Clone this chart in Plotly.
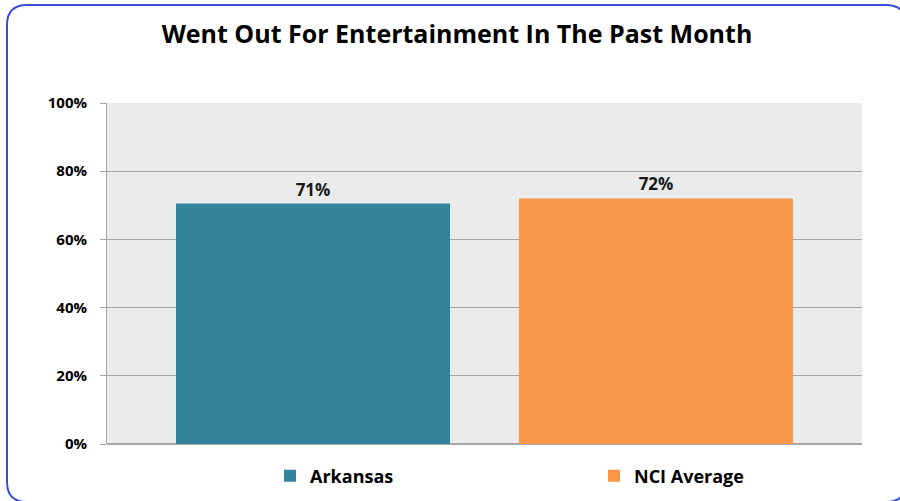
from plotly import graph_objects as go

# Chart values
SERIES = ["Arkansas", "NCI Average"]
VALUES = [0.705, 0.72]
LABELS = ["71%", "72%"]
COLORS = ["#31849B", "#F79646"]
Y_TICKS = [0, 0.2, 0.4, 0.6, 0.8, 1.0]
Y_TICK_TEXT = ["0%", "20%", "40%", "60%", "80%", "100%"]

W, H = 900, 501
L, R, T, B = 107, 38, 103, 57
FONT = "Open Sans"


def px_x(px):
    """ Pixel x to paper x (plot area relative). """
    return (px - L) / (W - L - R)


def px_y(py):
    """ Pixel y to paper y (plot area relative). """
    return (H - B - py) / (H - T - B)


def rounded_rect(x0, y0, x1, y1, r):
    """ SVG path of a rounded rectangle, given in pixels, returned in paper coords. """
    pts = [
        ("M", [(x0 + r, y0)]),
        ("L", [(x1 - r, y0)]),
        ("Q", [(x1, y0), (x1, y0 + r)]),
        ("L", [(x1, y1 - r)]),
        ("Q", [(x1, y1), (x1 - r, y1)]),
        ("L", [(x0 + r, y1)]),
        ("Q", [(x0, y1), (x0, y1 - r)]),
        ("L", [(x0, y0 + r)]),
        ("Q", [(x0, y0), (x0 + r, y0)]),
    ]
    path = ""
    for cmd, coords in pts:
        path += cmd + " ".join(f"{px_x(a):.5f},{px_y(b):.5f}" for a, b in coords)
    return path + "Z"


fig = go.Figure()

for i, name in enumerate(SERIES):
    fig.add_trace(
        go.Bar(
            x=[i],
            y=[VALUES[i]],
            name=name,
            marker={"color": COLORS[i], "line": {"width": 0}},
            width=0.7988,
            text=[LABELS[i]],
            textposition="outside",
            textfont={"family": FONT, "size": 17, "color": "#1a1a1a", "weight": "bold"},
            cliponaxis=False,
        )
    )

fig.update_layout(
    width=W,
    height=H,
    margin={"l": L, "r": R, "t": T, "b": B, "autoexpand": False},
    paper_bgcolor="white",
    plot_bgcolor="#EBEBEB",
    title={
        "text": "<b>Went Out For Entertainment In The Past Month</b>",
        "x": 457 / W,
        "xanchor": "center",
        "y": 1 - 34 / H,
        "yanchor": "middle",
        "font": {"family": FONT, "size": 25, "color": "black"},
    },
    showlegend=True,
    legend={
        "orientation": "h",
        "x": 270 / W,
        "xref": "container",
        "xanchor": "left",
        "y": 1 - 476 / H,
        "yref": "container",
        "yanchor": "middle",
        "entrywidth": 279,
        "entrywidthmode": "pixels",
        "font": {"family": FONT, "size": 18, "color": "black", "weight": "bold"},
        "bgcolor": "rgba(0,0,0,0)",
    },
    shapes=[
        {
            "type": "path",
            "xref": "paper",
            "yref": "paper",
            "path": rounded_rect(7, 5, 906, 502, 20),
            "line": {"color": "#3B4FD6", "width": 2},
            "layer": "above",
        }
    ],
)

fig.update_xaxes(
    range=[-0.6006, 1.6006],
    showticklabels=False,
    showgrid=False,
    zeroline=False,
    showline=False,
    fixedrange=True,
)

fig.update_yaxes(
    range=[0, 1],
    tickvals=Y_TICKS,
    ticktext=Y_TICK_TEXT,
    tickfont={"family": FONT, "size": 15, "color": "black", "weight": "bold"},
    ticks="outside",
    ticklen=6,
    tickcolor="#A6A6A6",
    ticklabelstandoff=10,
    showgrid=True,
    gridcolor="#A6A6A6",
    gridwidth=1,
    zeroline=True,
    zerolinecolor="#A6A6A6",
    showline=True,
    linecolor="#A6A6A6",
    linewidth=1,
)

# Drop the default page margin so the figure sits at the window's corner
fig.write_html(
    "out.html",
    config={"displayModeBar": False},
    post_script="document.body.style.margin='0';document.body.style.overflow='hidden';",
)
